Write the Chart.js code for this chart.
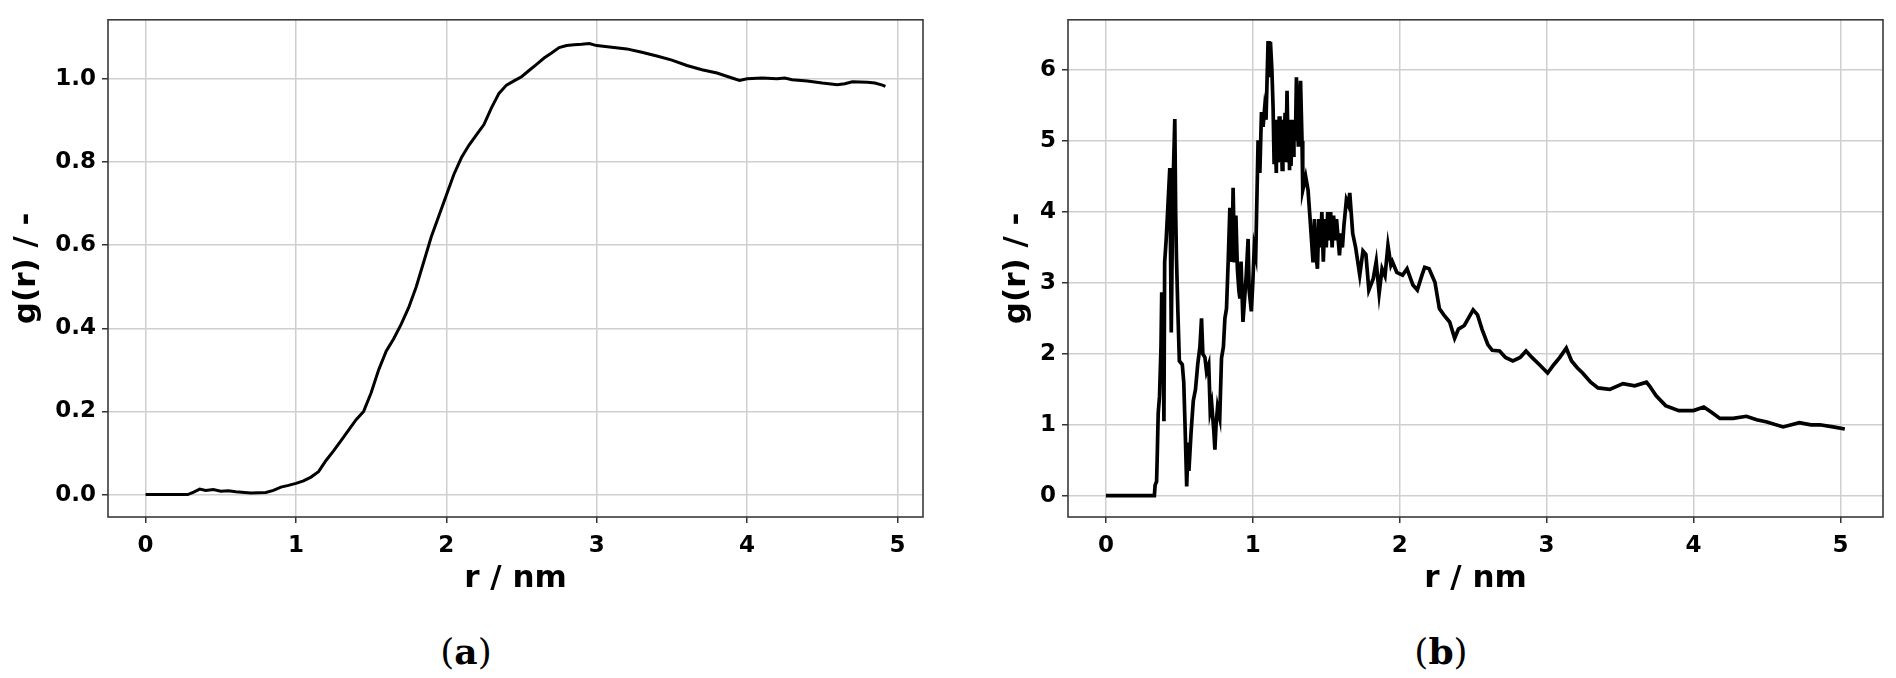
<!DOCTYPE html>
<html>
<head>
<meta charset="utf-8">
<script src="https://cdn.jsdelivr.net/npm/chart.js@4/dist/chart.umd.min.js"></script>
<style>
  body { margin: 0; background: #fff; }
  .box { position: absolute; top: 0; width: 948px; height: 610px; }
  .cap { position: absolute; top: 630px; font-family: "DejaVu Serif", "Liberation Serif", serif; font-size: 36px; color: #000; transform: translateX(-50%); }
</style>
</head>
<body>
<div class="box" style="left:0"><canvas id="chartA"></canvas></div>
<div class="box" style="left:948px"><canvas id="chartB"></canvas></div>
<div class="cap" style="left:466px">(<b>a</b>)</div>
<div class="cap" style="left:1441px">(<b>b</b>)</div>
<script>
// (a) g(r) vs r
const rA = [0, 0.28, 0.32, 0.36, 0.4, 0.45, 0.5, 0.55, 0.6, 0.7, 0.8, 0.85, 0.9, 0.95, 1.0, 1.05, 1.1, 1.15, 1.2, 1.25,
  1.3, 1.35, 1.4, 1.45, 1.5, 1.55, 1.6, 1.65, 1.7, 1.75, 1.8, 1.85, 1.9, 1.95, 2.0, 2.05, 2.1, 2.15, 2.2, 2.25,
  2.3, 2.35, 2.4, 2.45, 2.5, 2.55, 2.6, 2.65, 2.7, 2.75, 2.8, 2.85, 2.9, 2.95, 3.0, 3.1, 3.2, 3.3, 3.4, 3.5,
  3.6, 3.7, 3.8, 3.9, 3.95, 4.0, 4.1, 4.2, 4.25, 4.3, 4.4, 4.5, 4.6, 4.65, 4.7, 4.8, 4.85, 4.9, 4.92];
const gA = [0, 0, 0.006, 0.013, 0.01, 0.012, 0.008, 0.009, 0.007, 0.004, 0.005, 0.01, 0.018, 0.022, 0.027, 0.033, 0.042, 0.055, 0.082, 0.105,
  0.13, 0.155, 0.18, 0.2, 0.245, 0.3, 0.345, 0.375, 0.41, 0.45, 0.5, 0.56, 0.62, 0.67, 0.72, 0.77, 0.81, 0.84, 0.865, 0.89,
  0.93, 0.965, 0.985, 0.995, 1.005, 1.02, 1.035, 1.05, 1.062, 1.075, 1.08, 1.082, 1.083, 1.085, 1.08, 1.076, 1.072, 1.064, 1.055, 1.045,
  1.032, 1.022, 1.014, 1.002, 0.996, 1.0, 1.002, 1.0, 1.002, 0.998, 0.995, 0.99, 0.986, 0.988, 0.993, 0.992, 0.99, 0.985, 0.982];

// (b) g(r) vs r, ten points per line
const rB = [0, 0.33, 0.335, 0.345, 0.35, 0.356, 0.365, 0.375, 0.38, 0.39,
  0.395, 0.4, 0.41, 0.42, 0.435, 0.445, 0.455, 0.469, 0.475, 0.48,
  0.49, 0.5, 0.52, 0.53, 0.54, 0.55, 0.56, 0.565, 0.58, 0.595,
  0.61, 0.625, 0.64, 0.651, 0.66, 0.674, 0.685, 0.7, 0.71, 0.72,
  0.735, 0.742, 0.75, 0.76, 0.775, 0.787, 0.8, 0.81, 0.821, 0.833,
  0.844, 0.85, 0.858, 0.866, 0.875, 0.885, 0.895, 0.905, 0.912, 0.92,
  0.933, 0.945, 0.955, 0.968, 0.975, 0.99, 1.0, 1.01, 1.02, 1.036,
  1.048, 1.059, 1.07, 1.08, 1.09, 1.104, 1.11, 1.12, 1.13, 1.138,
  1.145, 1.15, 1.16, 1.165, 1.17, 1.18, 1.185, 1.19, 1.2, 1.205,
  1.21, 1.22, 1.225, 1.233, 1.24, 1.245, 1.25, 1.255, 1.26, 1.27,
  1.275, 1.28, 1.29, 1.297, 1.31, 1.325, 1.335, 1.34, 1.36, 1.376,
  1.39, 1.41, 1.42, 1.43, 1.44, 1.45, 1.46, 1.47, 1.48, 1.49,
  1.5, 1.51, 1.52, 1.53, 1.54, 1.55, 1.56, 1.57, 1.59, 1.6,
  1.61, 1.62, 1.637, 1.65, 1.66, 1.68, 1.7, 1.728, 1.75, 1.77,
  1.79, 1.82, 1.84, 1.86, 1.88, 1.9, 1.92, 1.94, 1.95, 1.98,
  2.02, 2.05, 2.09, 2.12, 2.15, 2.17, 2.2, 2.24, 2.27, 2.3,
  2.34, 2.374, 2.4, 2.44, 2.5, 2.53, 2.56, 2.6, 2.63, 2.68,
  2.72, 2.77, 2.82, 2.86, 2.9, 2.95, 3.007, 3.05, 3.09, 3.134,
  3.17, 3.21, 3.245, 3.3, 3.35, 3.43, 3.52, 3.6, 3.68, 3.7,
  3.746, 3.81, 3.9, 4.0, 4.07, 4.12, 4.18, 4.27, 4.36, 4.43,
  4.5, 4.61, 4.72, 4.8, 4.86, 4.95, 5.03];
const gB = [0, 0, 0.15, 0.2, 0.6, 1.16, 1.4, 2.1, 2.87, 2.3,
  1.05, 3.29, 3.6, 4.0, 4.62, 2.3, 4.2, 5.31, 4.0, 3.39,
  2.6, 1.9, 1.85, 1.6, 0.9, 0.13, 0.75, 0.35, 0.9, 1.34,
  1.5, 1.85, 2.1, 2.5, 2.0, 1.95, 1.75, 1.85, 1.2, 1.3,
  0.9, 0.65, 1.0, 1.25, 1.1, 1.94, 2.1, 2.5, 2.64, 3.34,
  4.06, 3.4, 3.3, 4.34, 3.29, 3.95, 3.2, 2.9, 2.78, 3.3,
  2.45, 2.8, 3.1, 3.62, 2.9, 2.6, 3.0, 3.5, 3.39, 5.01,
  4.55, 5.41, 5.2, 5.45, 5.3, 6.41, 5.9, 6.4, 6.0, 5.48,
  4.7, 5.3, 4.55, 5.3, 4.8, 5.35, 4.7, 5.3, 4.6, 5.3,
  4.8, 5.4, 4.7, 5.71, 4.9, 5.3, 4.59, 5.2, 4.65, 5.3,
  4.8, 5.2, 5.0, 5.9, 4.92, 5.85, 5.0, 4.31, 4.5, 4.31,
  3.9, 3.29, 3.9, 3.4, 3.2, 3.9, 3.5, 4.0, 3.3, 3.9,
  3.5, 4.0, 3.6, 4.0, 3.5, 3.95, 3.6, 3.9, 3.39, 3.7,
  3.5, 3.8, 4.17, 4.1, 4.27, 3.7, 3.5, 3.11, 3.45, 3.4,
  2.9, 3.06, 3.3, 2.85, 3.2, 3.1, 3.53, 3.25, 3.3, 3.15,
  3.11, 3.2, 2.97, 2.9, 3.1, 3.22, 3.2, 3.01, 2.64, 2.55,
  2.45, 2.22, 2.35, 2.4, 2.62, 2.55, 2.35, 2.13, 2.05, 2.04,
  1.95, 1.9, 1.95, 2.04, 1.95, 1.85, 1.73, 1.85, 1.95, 2.08,
  1.9, 1.8, 1.73, 1.6, 1.52, 1.5, 1.58, 1.55, 1.6, 1.55,
  1.41, 1.27, 1.2, 1.2, 1.25, 1.18, 1.09, 1.09, 1.12, 1.07,
  1.04, 0.97, 1.03, 1.0, 1.0, 0.97, 0.94];

const xTicks = [0, 1, 2, 3, 4, 5];
const yTicksA = [0, 0.2, 0.4, 0.6, 0.8, 1.0];
const yLabelsA = ['0.0', '0.2', '0.4', '0.6', '0.8', '1.0'];
const yTicksB = [0, 1, 2, 3, 4, 5, 6];
const yLabelsB = ['0', '1', '2', '3', '4', '5', '6'];

const tickFont = { family: 'DejaVu Sans', weight: 'bold', size: 23 };
const titleFont = { family: 'DejaVu Sans', weight: 'bold', size: 31 };

const frame = {
  id: 'frame',
  afterDraw(chart) {
    const { ctx, chartArea: a } = chart;
    ctx.save();
    ctx.strokeStyle = '#3a3a3a';
    ctx.lineWidth = 1.6;
    ctx.strokeRect(a.left, a.top, a.right - a.left, a.bottom - a.top);
    ctx.restore();
  }
};

function makeChart(id, xs, ys, o) {
  new Chart(document.getElementById(id), {
    type: 'scatter',
    data: {
      datasets: [{
        data: xs.map((x, i) => ({ x: x, y: ys[i] })),
        showLine: true,
        borderColor: '#000',
        borderWidth: o.lineWidth,
        pointRadius: 0,
        tension: 0
      }]
    },
    options: {
      responsive: true,
      maintainAspectRatio: false,
      animation: false,
      events: [],
      layout: { padding: { top: 15, right: o.padRight, left: 0, bottom: 0 } },
      plugins: { legend: { display: false }, tooltip: { enabled: false } },
      scales: {
        x: {
          type: 'linear', min: o.xMin, max: o.xMax,
          afterBuildTicks: s => { s.ticks = xTicks.map(v => ({ value: v })); },
          afterFit: s => { s.height = 93; },
          grid: { color: '#cfcfcf', lineWidth: 1.5, tickColor: '#333', tickLength: 6, tickWidth: 1.5 },
          border: { display: false },
          ticks: { font: tickFont, color: '#000', padding: 9, maxRotation: 0 },
          title: { display: true, text: 'r / nm', font: titleFont, color: '#000', padding: { top: 0, bottom: 12 } }
        },
        y: {
          type: 'linear', min: o.yMin, max: o.yMax,
          afterBuildTicks: s => { s.ticks = o.yTicks.map(v => ({ value: v })); },
          afterFit: s => { s.width = o.yWidth; },
          grid: { color: '#cfcfcf', lineWidth: 1.5, tickColor: '#333', tickLength: 6, tickWidth: 1.5 },
          border: { display: false },
          ticks: {
            font: tickFont, color: '#000', padding: 6,
            callback: (v) => o.yLabels[o.yTicks.indexOf(v)]
          },
          title: { display: true, text: 'g(r) / -', font: titleFont, color: '#000', padding: { top: o.yTitlePad, bottom: 0 } }
        }
      }
    },
    plugins: [frame]
  });
}

makeChart('chartA', rA, gA, {
  xMin: -0.25, xMax: 5.17, yMin: -0.054, yMax: 1.142, lineWidth: 3,
  yTicks: yTicksA, yLabels: yLabelsA, yWidth: 108, padRight: 25, yTitlePad: 8
});
makeChart('chartB', rB, gB, {
  xMin: -0.258, xMax: 5.29, yMin: -0.3, yMax: 6.71, lineWidth: 3.7,
  yTicks: yTicksB, yLabels: yLabelsB, yWidth: 120, padRight: 13, yTitlePad: 50
});
</script>
</body>
</html>
